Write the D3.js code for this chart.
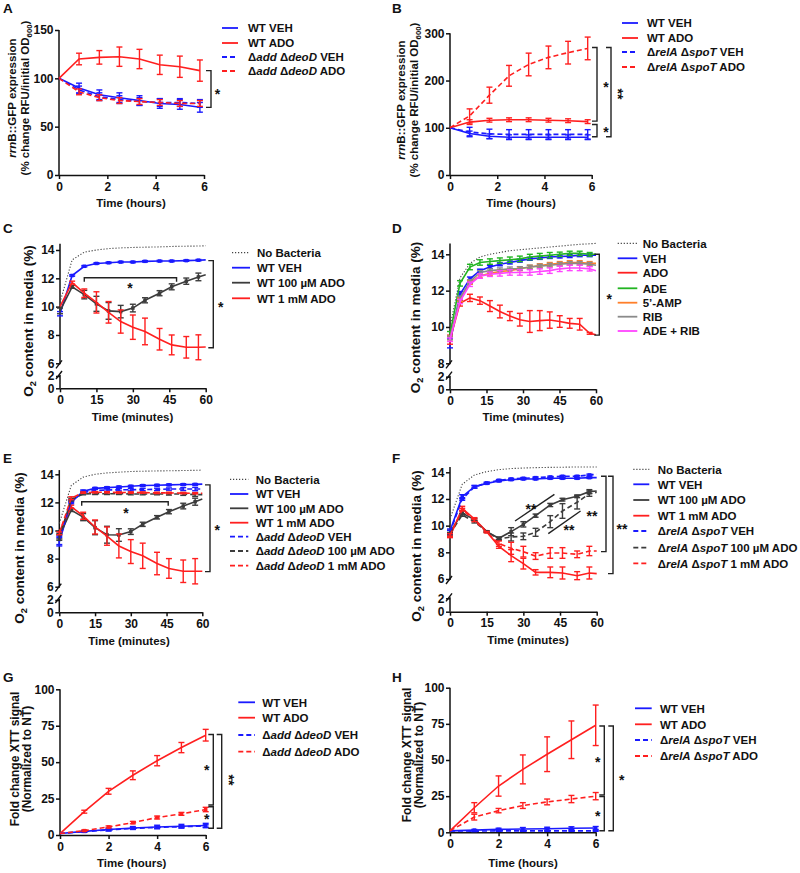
<!DOCTYPE html>
<html><head><meta charset="utf-8">
<script src="https://cdn.jsdelivr.net/npm/d3@7"></script>
<style>
body{margin:0;background:#fff;}
svg text{font-family:"Liberation Sans",Arial,Helvetica,sans-serif;font-weight:bold;fill:#111;}
</style></head><body>
<svg id="c" width="800" height="873"></svg>
<script>
// ---------------- DATA ----------------
// Panels A & B (hours)
const tAB = [0,0.83,1.67,2.5,3.33,4.17,5,5.83];
const A_wtVeh = [100,90,83,80,77,74,73,70];
const A_wtVehErr = [0,5,5,5,5,5,5,5];
const A_wtAdo = [100,120,121.7,122.4,120,114,112,108];
const A_wtAdoErr = [0,6,7,10,10,10,11,11];
const A_mutVeh = [100,88,81,78,76,75,75,74];
const A_mutVehErr = [0,4,4,4,4,4,4,4];
const A_mutAdo = [100,86,80,77,76,75,74,74];
const A_mutAdoErr = [0,3,3,3,3,3,3,3];

const B_wtVeh = [100,88,82,80,80,80,80,80];
const B_wtVehErr = [0,5,5,5,5,5,5,5];
const B_wtAdo = [100,112,116,117,117,116,115,113];
const B_wtAdoErr = [0,5,4,4,4,4,4,4];
const B_mutVeh = [100,91,87,86,86,86,86,86];
const B_mutVehErr = [0,10,10,10,10,10,10,10];
const B_mutAdo = [100,125,169,210,234,249,259,268];
const B_mutAdoErr = [0,15,17,22,24,24,24,24];

// Panels C, E, F (minutes)
const tCEF = [0,5,10,15,20,25,30,35,41,46,52,57,60];
const C_noBact = [10.3,13.3,13.85,14.0,14.1,14.15,14.18,14.2,14.22,14.25,14.27,14.28,14.3];
const C_wtVeh = [9.5,12.2,12.85,13.05,13.1,13.15,13.15,13.2,13.22,13.22,13.25,13.28,13.3];
const C_wtVehErr = [0.15,0.05,0.05,0.05,0.05,0.05,0.05,0.05,0.05,0.05,0.05,0.05,0];
const C_wt100 = [9.7,11.4,10.85,10.2,9.7,9.65,9.9,10.45,10.95,11.4,11.8,12.1,12.25];
const C_wt100Err = [0.2,0.1,0.3,0.53,0.59,0.44,0.27,0.18,0.18,0.21,0.22,0.27,0];
const C_wt1mM = [10.0,11.7,10.95,10.3,9.6,8.95,8.55,8.25,7.7,7.3,7.13,7.13,7.15];
const C_wt1mMErr = [0,0.1,0.3,0.75,0.76,0.82,0.86,0.94,0.76,0.7,0.76,0.88,0];

const E_noBact = [10.5,13.2,13.8,14.0,14.1,14.15,14.2,14.22,14.24,14.25,14.27,14.28,14.3];
const E_wtVeh = [9.2,12.0,12.8,13.0,13.05,13.1,13.15,13.2,13.22,13.25,13.27,13.28,13.3];
const E_wtVehErr = [0.3,0.1,0.08,0.06,0.06,0.06,0.06,0.06,0.06,0.06,0.06,0.06,0];
const E_wt100 = [9.6,11.45,10.95,10.2,9.7,9.68,9.92,10.44,10.94,11.34,11.74,12.05,12.24];
const E_wt100Err = [0.2,0.1,0.25,0.5,0.6,0.45,0.2,0.15,0.12,0.15,0.2,0.25,0];
const E_wt1mM = [9.9,11.7,11.05,10.25,9.6,8.9,8.5,8.2,7.65,7.3,7.1,7.1,7.1];
const E_wt1mMErr = [0,0.1,0.25,0.5,0.65,0.85,0.85,0.9,0.8,0.7,0.8,0.9,0];
const E_mutVeh = [9.3,12.1,12.7,12.85,12.88,12.9,12.9,12.92,12.93,12.95,12.95,12.95,12.95];
const E_mutVehErr = [0.3,0.1,0.08,0.08,0.08,0.08,0.08,0.08,0.08,0.08,0.1,0.12,0];
const E_mut100 = [9.5,12.2,12.6,12.62,12.62,12.62,12.6,12.6,12.6,12.6,12.6,12.55,12.55];
const E_mut100Err = [0.2,0.1,0.06,0.06,0.06,0.06,0.06,0.06,0.06,0.08,0.1,0.12,0];
const E_mut1mM = [9.8,12.3,12.7,12.72,12.72,12.7,12.7,12.7,12.68,12.68,12.66,12.65,12.65];
const E_mut1mMErr = [0.1,0.1,0.05,0.05,0.05,0.05,0.05,0.05,0.05,0.05,0.05,0.05,0];

const F_noBact = [10.5,13.1,13.8,14.05,14.2,14.28,14.32,14.35,14.37,14.38,14.4,14.4,14.4];
const F_wtVeh = [9.6,12.17,12.92,13.17,13.35,13.45,13.5,13.5,13.55,13.55,13.55,13.6,13.6];
const F_wtVehErr = [0.15,0.15,0.1,0.06,0.06,0.06,0.06,0.06,0.06,0.06,0.06,0.06,0];
const F_wt100 = [9.5,10.95,10.45,9.55,9.05,9.55,10.1,10.75,11.55,11.95,12.2,12.55,12.6];
const F_wt100Err = [0.15,0.15,0.1,0.05,0.1,0.3,0.2,0.12,0.12,0.1,0.1,0.15,0];
const F_wt1mM = [9.2,11.3,10.5,9.55,8.45,7.75,7.15,6.5,6.5,6.45,6.25,6.45,6.4];
const F_wt1mMErr = [0.1,0.15,0.1,0.05,0.15,0.45,0.4,0.2,0.4,0.45,0.3,0.45,0];
const F_mutVeh = [9.5,12.0,12.9,13.2,13.4,13.5,13.55,13.6,13.65,13.7,13.7,13.8,13.85];
const F_mutVehErr = [0.15,0.1,0.08,0.06,0.06,0.06,0.06,0.06,0.06,0.06,0.06,0.06,0];
const F_mut100 = [9.4,10.8,10.3,9.55,9.0,9.15,9.2,9.5,10.3,11.1,11.75,12.4,12.5];
const F_mut100Err = [0.1,0.1,0.1,0.05,0.1,0.3,0.25,0.3,0.45,0.55,0.5,0.2,0];
const F_mut1mM = [9.3,11.2,10.4,9.5,8.65,8.3,8.05,7.72,7.95,7.95,7.85,8.1,8.1];
const F_mut1mMErr = [0.1,0.1,0.1,0.05,0.2,0.45,0.4,0.25,0.4,0.4,0.25,0.35,0];

// Panel D (minutes)
const tD = [0,4.1,8.2,12.3,16.4,20.5,24.6,28.7,32.8,36.9,41,45.1,49.2,53.3,57.4,60];
const D_noBact = [10.0,12.7,13.5,13.85,14.0,14.1,14.2,14.25,14.3,14.35,14.4,14.45,14.5,14.55,14.58,14.6];
const D_veh = [9.1,11.8,12.65,13.1,13.3,13.45,13.55,13.65,13.75,13.8,13.85,13.88,13.9,13.95,13.95,13.95];
const D_vehErr = [0.25,0.15,0.1,0.08,0.08,0.08,0.08,0.08,0.08,0.08,0.08,0.08,0.08,0.08,0.08,0];
const D_ado = [9.3,11.3,11.6,11.45,11.15,10.85,10.6,10.4,10.3,10.35,10.38,10.3,10.2,10.15,9.65,9.57];
const D_adoErr = [0.25,0.15,0.2,0.2,0.3,0.35,0.25,0.35,0.6,0.55,0.45,0.32,0.27,0.32,0.05,0];
const D_ade = [9.6,12.4,13.3,13.55,13.6,13.65,13.7,13.75,13.85,13.9,13.95,14.0,14.05,14.05,14.0,14.0];
const D_adeErr = [0.15,0.15,0.15,0.15,0.15,0.15,0.15,0.15,0.15,0.15,0.15,0.12,0.12,0.12,0.1,0];
const D_amp = [9.4,11.5,12.45,12.8,12.95,13.05,13.1,13.2,13.3,13.38,13.45,13.5,13.55,13.55,13.5,13.5];
const D_ampErr = [0.1,0.1,0.1,0.1,0.1,0.1,0.1,0.1,0.1,0.1,0.1,0.1,0.1,0.1,0.1,0];
const D_rib = [9.4,11.6,12.5,13.0,13.1,13.15,13.2,13.22,13.3,13.35,13.4,13.45,13.5,13.5,13.45,13.4];
const D_ribErr = [0.1,0.1,0.1,0.1,0.1,0.1,0.1,0.1,0.1,0.1,0.1,0.1,0.1,0.1,0.1,0];
const D_adeRib = [9.3,11.4,12.35,12.8,12.9,12.95,13.0,13.0,13.0,13.05,13.1,13.2,13.25,13.25,13.2,13.1];
const D_adeRibErr = [0.1,0.12,0.12,0.12,0.12,0.15,0.15,0.15,0.15,0.15,0.15,0.15,0.15,0.15,0.12,0];

// Panels G & H (hours)
const tGH = [0,1,2,3,4,5,6];
const G_wtVeh = [1,2.5,3.8,4.8,5.5,6,6.5];
const G_wtVehErr = [0,0.5,1,1,1.2,1.3,1.5];
const G_wtAdo = [1,16,30,41,51,60,68.5];
const G_wtAdoErr = [0,1,2,3,3.5,3.5,4];
const G_mutVeh = [1,2.3,3.5,4.5,5.2,5.7,6.2];
const G_mutVehErr = [0,0.5,0.6,0.6,0.7,0.7,0.8];
const G_mutAdo = [1,3,5.5,8.5,12,14.5,17.5];
const G_mutAdoErr = [0,0.5,0.7,0.8,1,1,1.5];

const H_wtVeh = [1,1.5,2,2.3,2.5,2.8,3];
const H_wtVehErr = [0,0.5,0.8,1,1,1,1];
const H_wtAdo = [1,17,32,43.5,54,64,74];
const H_wtAdoErr = [0,3.5,7,10,12,13,14];
const H_mutVeh = [1,0.8,1,1,1,1,1];
const H_mutVehErr = [0,0.3,0.3,0.3,0.3,0.3,0.3];
const H_mutAdo = [1,10.5,15,18.5,21,23,25];
const H_mutAdoErr = [0,2,1.5,2,2,2.5,2.5];

// tick labels
const ticksHours = [0,2,4,6];
const ticksMin = [0,15,30,45,60];
const ticksA = [0,50,100,150];
const ticksB = [0,100,200,300];
const ticksO2_6 = [6,8,10,12,14];
const ticksO2_8 = [8,10,12,14];
const ticksLow = [0,2];
const ticksXTT = [0,25,50,75,100];

// legend / label texts
const L_wtVeh = "WT VEH", L_wtAdo = "WT ADO";
const L_addVeh = "Δ<i>add</i> Δ<i>deoD</i> VEH", L_addAdo = "Δ<i>add</i> Δ<i>deoD</i> ADO";
const L_relVeh = "Δ<i>relA</i> Δ<i>spoT</i> VEH", L_relAdo = "Δ<i>relA</i> Δ<i>spoT</i> ADO";
const L_noB = "No Bacteria", L_wt100 = "WT 100 µM ADO", L_wt1 = "WT 1 mM ADO";
const L_add100 = "Δ<i>add</i> Δ<i>deoD</i> 100 µM ADO", L_add1 = "Δ<i>add</i> Δ<i>deoD</i> 1 mM ADO";
const L_rel100 = "Δ<i>relA</i> Δ<i>spoT</i> 100 µM ADO", L_rel1 = "Δ<i>relA</i> Δ<i>spoT</i> 1 mM ADO";

// ---------------- STYLE ----------------
const BLUE = "#1a1aff", RED = "#ff1f1f", DGRAY = "#3c3c3c", LGRAY = "#8a8a8a",
      GREEN = "#22b422", ORANGE = "#ff7f2a", MAGENTA = "#ff45ff", DOT = "#444";
const SOLID = null, DASH = "5,3", DOTS = "1.2,1.8";

const svg = d3.select("#c");
const fmt = d3.format("d");

function addRich(sel, str) {
  const parts = str.split(/(<i>.*?<\/i>|<sub>.*?<\/sub>)/).filter(s => s.length);
  let shifted = false;
  parts.forEach(p => {
    let t;
    if (p.startsWith("<sub>")) {
      t = sel.append("tspan").attr("font-size", "0.68em").attr("dy", 3).text(p.slice(5, -6));
      shifted = true; return;
    }
    if (p.startsWith("<i>")) t = sel.append("tspan").attr("font-style", "italic").text(p.slice(3, -4));
    else t = sel.append("tspan").text(p);
    if (shifted) { t.attr("dy", -3); shifted = false; }
  });
}

function styleAxis(a, fs) {
  a.attr("font-family", null).attr("font-size", fs);
  a.selectAll(".domain").attr("stroke", "#111").attr("stroke-width", 1.5);
  a.selectAll(".tick line").attr("stroke", "#111").attr("stroke-width", 1.5);
  a.selectAll(".tick text").attr("fill", "#111");
}

function star(g, s) {
  const t = g.append("text").attr("font-size", 14).attr("text-anchor", "middle").text(s.s);
  if (s.rot) t.attr("transform", `translate(${s.x - 7},${s.y}) rotate(90)`);
  else t.attr("x", s.x).attr("y", s.y + 7);
}

function drawPanel(p) {
  const g = svg.append("g");
  const x = d3.scaleLinear().domain(p.xDomain).range([p.left, p.right]);
  const y = d3.scaleLinear().domain(p.yDomain).range([p.yBottom, p.yTop]);
  let xAxisY = y(p.yDomain[0]);
  let yLow = null;
  if (p.low) { yLow = d3.scaleLinear().domain([0, 2]).range(p.low); xAxisY = yLow(0); }

  const xa = g.append("g").attr("transform", `translate(0,${xAxisY})`)
    .call(d3.axisBottom(x).tickValues(p.xTicks).tickSize(4).tickSizeOuter(0).tickPadding(3).tickFormat(fmt));
  styleAxis(xa, 12);

  const ya = g.append("g").attr("transform", `translate(${p.left},0)`)
    .call(d3.axisLeft(y).tickValues(p.yTicks).tickSize(4).tickSizeOuter(0).tickPadding(1.5).tickFormat(fmt));
  styleAxis(ya, 12);
  ya.select(".domain").remove();
  g.append("line").attr("x1", p.left).attr("x2", p.left)
    .attr("y1", y(p.axisTop)).attr("y2", p.low ? y(p.yDomain[0]) + 1 : xAxisY)
    .attr("stroke", "#111").attr("stroke-width", 1.5);

  if (p.low) {
    const yl = g.append("g").attr("transform", `translate(${p.left},0)`)
      .call(d3.axisLeft(yLow).tickValues(ticksLow).tickSize(4).tickSizeOuter(0).tickPadding(1.5).tickFormat(fmt));
    styleAxis(yl, 12);
    yl.select(".domain").remove();
    g.append("line").attr("x1", p.left).attr("x2", p.left)
      .attr("y1", yLow(2) - 1).attr("y2", xAxisY)
      .attr("stroke", "#111").attr("stroke-width", 1.5);
    [y(p.yDomain[0]) + 1, yLow(2) - 1].forEach(yy => {
      g.append("line").attr("x1", p.left - 4).attr("y1", yy + 4).attr("x2", p.left + 2).attr("y2", yy - 4)
        .attr("stroke", "#111").attr("stroke-width", 1.4);
    });
  }

  // series
  p.series.forEach(s => {
    const pts = s.t.map((t, i) => ({ t, v: s.v[i], e: s.e ? s.e[i] : 0 }));
    g.append("path").datum(pts)
      .attr("d", d3.line().x(d => x(d.t)).y(d => y(d.v)))
      .attr("fill", "none").attr("stroke", s.color)
      .attr("stroke-width", s.w || 1.6).attr("stroke-dasharray", s.dash);
    if (s.e) {
      const eb = g.append("g").attr("stroke", s.color).attr("stroke-width", 1.4);
      pts.filter(d => d.e > 0).forEach(d => {
        const cx = x(d.t), y1 = y(d.v - d.e), y2 = y(d.v + d.e);
        eb.append("line").attr("x1", cx).attr("x2", cx).attr("y1", y1).attr("y2", y2);
        eb.append("line").attr("x1", cx - 3).attr("x2", cx + 3).attr("y1", y1).attr("y2", y1);
        eb.append("line").attr("x1", cx - 3).attr("x2", cx + 3).attr("y1", y2).attr("y2", y2);
      });
    }
    if (s.marker) {
      g.append("g").selectAll("rect").data(pts.slice(1, s.t[s.t.length-1] === 60 ? -1 : undefined)).join("rect")
        .attr("x", d => x(d.t) - 1.75).attr("y", d => y(d.v) - 1.75).attr("width", 3.5).attr("height", 3.5)
        .attr("fill", s.color);
    }
  });

  // legend
  p.series.forEach((s, i) => {
    const ry = p.legend.rows[i];
    g.append("line").attr("x1", p.legend.x1).attr("x2", p.legend.x2).attr("y1", ry).attr("y2", ry)
      .attr("stroke", s.color).attr("stroke-width", s.dash === DOTS ? 1.2 : 1.8).attr("stroke-dasharray", s.dash);
    const t = g.append("text").attr("x", p.legend.tx).attr("y", ry + 4.2).attr("font-size", 11.5);
    addRich(t, s.label);
  });

  // brackets
  (p.vbr || []).forEach(b => {
    g.append("path").attr("d", `M${b.x - 5},${y(b.v1)}H${b.x}V${y(b.v2)}H${b.x - 5}`)
      .attr("fill", "none").attr("stroke", "#222").attr("stroke-width", 1.4);
  });
  (p.hbr || []).forEach(b => {
    g.append("path").attr("d", `M${x(b.t1)},${b.y + 4}V${b.y}H${x(b.t2)}V${b.y + 4}`)
      .attr("fill", "none").attr("stroke", "#222").attr("stroke-width", 1.4);
  });
  (p.diag || []).forEach(d => {
    g.append("line").attr("x1", x(d[0])).attr("y1", y(d[1])).attr("x2", x(d[2])).attr("y2", y(d[3]))
      .attr("stroke", "#222").attr("stroke-width", 1.4);
  });
  (p.stars || []).forEach(s => star(g, s));

  // labels
  p.ylab.lines.forEach(l => {
    const t = g.append("text").attr("text-anchor", "middle").attr("font-size", p.ylab.fs)
      .attr("transform", `translate(${l.x},${p.ylab.yc}) rotate(-90)`);
    addRich(t, l.s);
  });
  g.append("text").attr("x", p.xlab.x).attr("y", p.xlab.y).attr("text-anchor", "middle")
    .attr("font-size", 11.5).text(p.xlab.s);
  g.append("text").attr("x", p.letter.x).attr("y", p.letter.y).attr("font-size", 13.5).text(p.letter.s);
}

const O2 = "O<sub>2</sub> content in media (%)";

// ---------------- PANELS ----------------
drawPanel({
  left: 59, right: 204, yTop: 30, yBottom: 175, xDomain: [0, 6], yDomain: [0, 150], axisTop: 150,
  xTicks: ticksHours, yTicks: ticksA,
  series: [
    { label: L_wtVeh, t: tAB, v: A_wtVeh, e: A_wtVehErr, color: BLUE, dash: SOLID },
    { label: L_wtAdo, t: tAB, v: A_wtAdo, e: A_wtAdoErr, color: RED, dash: SOLID },
    { label: L_addVeh, t: tAB, v: A_mutVeh, e: A_mutVehErr, color: BLUE, dash: DASH },
    { label: L_addAdo, t: tAB, v: A_mutAdo, e: A_mutAdoErr, color: RED, dash: DASH }],
  legend: { x1: 222, x2: 238, tx: 248, rows: [28, 43, 57, 71] },
  vbr: [{ x: 211, v1: 108, v2: 70 }], stars: [{ x: 217.5, y: 92, s: "*" }],
  ylab: { fs: 11.5, yc: 98, lines: [{ x: 16, s: "<i>rrn</i>B::GFP expression" }, { x: 28.5, s: "(% change RFU/initial OD<sub>600</sub>)" }] },
  xlab: { x: 131, y: 206.5, s: "Time (hours)" }, letter: { x: 3, y: 12.7, s: "A" }
});

drawPanel({
  left: 450, right: 591.7, yTop: 33.3, yBottom: 175, xDomain: [0, 6], yDomain: [0, 300], axisTop: 300,
  xTicks: ticksHours, yTicks: ticksB,
  series: [
    { label: L_wtVeh, t: tAB, v: B_wtVeh, e: B_wtVehErr, color: BLUE, dash: SOLID },
    { label: L_wtAdo, t: tAB, v: B_wtAdo, e: B_wtAdoErr, color: RED, dash: SOLID },
    { label: L_relVeh, t: tAB, v: B_mutVeh, e: B_mutVehErr, color: BLUE, dash: DASH },
    { label: L_relAdo, t: tAB, v: B_mutAdo, e: B_mutAdoErr, color: RED, dash: DASH }],
  legend: { x1: 622, x2: 638, tx: 647, rows: [23, 38, 52, 67] },
  vbr: [{ x: 597, v1: 270, v2: 114 }, { x: 597, v1: 107, v2: 81 }, { x: 611, v1: 270, v2: 81 }],
  stars: [{ x: 606, y: 85, s: "*" }, { x: 606, y: 130, s: "*" }, { x: 620, y: 94, s: "**", rot: true }],
  ylab: { fs: 11.5, yc: 100, lines: [{ x: 405, s: "<i>rrn</i>B::GFP expression" }, { x: 418, s: "(% change RFU/initial OD<sub>600</sub>)" }] },
  xlab: { x: 521, y: 206.5, s: "Time (hours)" }, letter: { x: 392, y: 12.7, s: "B" }
});

drawPanel({
  left: 60, right: 205.7, yTop: 250, yBottom: 363.3, xDomain: [0, 60], yDomain: [6, 14], axisTop: 14.45,
  low: [388.3, 376], xTicks: ticksMin, yTicks: ticksO2_6,
  series: [
    { label: L_noB, t: tCEF, v: C_noBact, color: DOT, dash: DOTS, w: 1.1 },
    { label: L_wtVeh, t: tCEF, v: C_wtVeh, e: C_wtVehErr, color: BLUE, dash: SOLID, marker: true },
    { label: L_wt100, t: tCEF, v: C_wt100, e: C_wt100Err, color: DGRAY, dash: SOLID, marker: true },
    { label: L_wt1, t: tCEF, v: C_wt1mM, e: C_wt1mMErr, color: RED, dash: SOLID }],
  legend: { x1: 232, x2: 250, tx: 257, rows: [252.7, 267.7, 282.7, 298.3] },
  vbr: [{ x: 213.3, v1: 13.25, v2: 7.1 }], hbr: [{ y: 277.7, t1: 10, t2: 48 }],
  stars: [{ x: 130, y: 286, s: "*" }, { x: 220.7, y: 305, s: "*" }],
  ylab: { fs: 13.5, yc: 321, lines: [{ x: 32.5, s: O2 }] },
  xlab: { x: 132.5, y: 421, s: "Time (minutes)" }, letter: { x: 3, y: 233, s: "C" }
});

drawPanel({
  left: 450, right: 596, yTop: 254.3, yBottom: 363.3, xDomain: [0, 60], yDomain: [8, 14], axisTop: 14.6,
  low: [389.3, 376.7], xTicks: ticksMin, yTicks: ticksO2_8,
  series: [
    { label: L_noB, t: tD, v: D_noBact, color: DOT, dash: DOTS, w: 1.1 },
    { label: "VEH", t: tD, v: D_veh, e: D_vehErr, color: BLUE, dash: SOLID, marker: true },
    { label: "ADO", t: tD, v: D_ado, e: D_adoErr, color: RED, dash: SOLID },
    { label: "ADE", t: tD, v: D_ade, e: D_adeErr, color: GREEN, dash: SOLID },
    { label: "5’-AMP", t: tD, v: D_amp, e: D_ampErr, color: ORANGE, dash: SOLID, marker: true },
    { label: "RIB", t: tD, v: D_rib, e: D_ribErr, color: LGRAY, dash: SOLID },
    { label: "ADE + RIB", t: tD, v: D_adeRib, e: D_adeRibErr, color: MAGENTA, dash: SOLID }],
  legend: { x1: 617.7, x2: 637.3, tx: 642.7, rows: [243.3, 258.3, 272.7, 288.3, 302.7, 316.7, 331] },
  vbr: [{ x: 599.3, v1: 14.0, v2: 9.55 }], stars: [{ x: 609.3, y: 296.7, s: "*" }],
  ylab: { fs: 13.5, yc: 317.5, lines: [{ x: 420, s: O2 }] },
  xlab: { x: 523.3, y: 421, s: "Time (minutes)" }, letter: { x: 392, y: 233, s: "D" }
});

drawPanel({
  left: 59.3, right: 202.3, yTop: 474.3, yBottom: 586.7, xDomain: [0, 60], yDomain: [6, 14], axisTop: 14.3,
  low: [612.3, 600], xTicks: ticksMin, yTicks: ticksO2_6,
  series: [
    { label: L_noB, t: tCEF, v: E_noBact, color: DOT, dash: DOTS, w: 1.1 },
    { label: L_wtVeh, t: tCEF, v: E_wtVeh, e: E_wtVehErr, color: BLUE, dash: SOLID, marker: true },
    { label: L_wt100, t: tCEF, v: E_wt100, e: E_wt100Err, color: DGRAY, dash: SOLID, marker: true },
    { label: L_wt1, t: tCEF, v: E_wt1mM, e: E_wt1mMErr, color: RED, dash: SOLID },
    { label: L_addVeh, t: tCEF, v: E_mutVeh, e: E_mutVehErr, color: BLUE, dash: DASH },
    { label: L_add100, t: tCEF, v: E_mut100, e: E_mut100Err, color: DGRAY, dash: DASH },
    { label: L_add1, t: tCEF, v: E_mut1mM, e: E_mut1mMErr, color: RED, dash: DASH }],
  legend: { x1: 230, x2: 248.3, tx: 255.7, rows: [479.3, 494, 508.3, 522.7, 536.7, 551, 565.7] },
  vbr: [{ x: 210, v1: 13.25, v2: 7.07 }], hbr: [{ y: 501.7, t1: 9.4, t2: 45.7 }],
  stars: [{ x: 126, y: 510.7, s: "*" }, { x: 217.3, y: 528.3, s: "*" }],
  ylab: { fs: 13.5, yc: 548, lines: [{ x: 24, s: O2 }] },
  xlab: { x: 129, y: 645, s: "Time (minutes)" }, letter: { x: 3, y: 463, s: "E" }
});

drawPanel({
  left: 450, right: 596.7, yTop: 472.3, yBottom: 579, xDomain: [0, 60], yDomain: [6, 14], axisTop: 14.4,
  low: [611.7, 598.3], xTicks: ticksMin, yTicks: ticksO2_6,
  series: [
    { label: L_noB, t: tCEF, v: F_noBact, color: DOT, dash: DOTS, w: 1.1 },
    { label: L_wtVeh, t: tCEF, v: F_wtVeh, e: F_wtVehErr, color: BLUE, dash: SOLID, marker: true },
    { label: L_wt100, t: tCEF, v: F_wt100, e: F_wt100Err, color: DGRAY, dash: SOLID, marker: true },
    { label: L_wt1, t: tCEF, v: F_wt1mM, e: F_wt1mMErr, color: RED, dash: SOLID },
    { label: L_relVeh, t: tCEF, v: F_mutVeh, e: F_mutVehErr, color: BLUE, dash: DASH, marker: true },
    { label: L_rel100, t: tCEF, v: F_mut100, e: F_mut100Err, color: DGRAY, dash: DASH },
    { label: L_rel1, t: tCEF, v: F_mut1mM, e: F_mut1mMErr, color: RED, dash: DASH }],
  legend: { x1: 633.3, x2: 649.3, tx: 657.7, rows: [469.3, 484.3, 500, 515.7, 531, 547.7, 563.3] },
  vbr: [{ x: 606, v1: 13.7, v2: 8.05 }, { x: 613, v1: 13.7, v2: 6.4 }],
  diag: [[26.6, 10.35, 42.7, 12.35], [40.2, 9.4, 53.4, 11.1]],
  stars: [{ x: 592, y: 514, s: "**" }, { x: 622, y: 527, s: "**" }, { x: 531, y: 506.7, s: "**" }, { x: 569, y: 528.3, s: "**" }],
  ylab: { fs: 13.5, yc: 546, lines: [{ x: 421, s: O2 }] },
  xlab: { x: 528, y: 644, s: "Time (minutes)" }, letter: { x: 392, y: 463, s: "F" }
});

drawPanel({
  left: 60, right: 205.7, yTop: 689.3, yBottom: 835, xDomain: [0, 6], yDomain: [0, 100], axisTop: 100,
  xTicks: ticksHours, yTicks: ticksXTT,
  series: [
    { label: L_wtVeh, t: tGH, v: G_wtVeh, e: G_wtVehErr, color: BLUE, dash: SOLID, marker: true },
    { label: L_wtAdo, t: tGH, v: G_wtAdo, e: G_wtAdoErr, color: RED, dash: SOLID },
    { label: L_addVeh, t: tGH, v: G_mutVeh, e: G_mutVehErr, color: BLUE, dash: DASH },
    { label: L_addAdo, t: tGH, v: G_mutAdo, e: G_mutAdoErr, color: RED, dash: DASH, marker: true }],
  legend: { x1: 238.3, x2: 255, tx: 262.3, rows: [702.3, 717.7, 735, 751.7] },
  vbr: [{ x: 213.3, v1: 69, v2: 20.6 }, { x: 213.3, v1: 19.4, v2: 4.6 }, { x: 221.7, v1: 69, v2: 4.6 }],
  stars: [{ x: 206.7, y: 768.3, s: "*" }, { x: 206.7, y: 816.7, s: "*" }, { x: 231, y: 780, s: "**", rot: true }],
  ylab: { fs: 12, yc: 759, lines: [{ x: 18.5, s: "Fold change XTT signal" }, { x: 30.5, s: "(Normalized to NT)" }] },
  xlab: { x: 131.7, y: 867, s: "Time (hours)" }, letter: { x: 3, y: 682, s: "G" }
});

drawPanel({
  left: 450, right: 595.7, yTop: 687.7, yBottom: 832.3, xDomain: [0, 6], yDomain: [0, 100], axisTop: 100,
  xTicks: ticksHours, yTicks: ticksXTT,
  series: [
    { label: L_wtVeh, t: tGH, v: H_wtVeh, e: H_wtVehErr, color: BLUE, dash: SOLID, marker: true },
    { label: L_wtAdo, t: tGH, v: H_wtAdo, e: H_wtAdoErr, color: RED, dash: SOLID },
    { label: L_relVeh, t: tGH, v: H_mutVeh, e: H_mutVehErr, color: BLUE, dash: DASH },
    { label: L_relAdo, t: tGH, v: H_mutAdo, e: H_mutAdoErr, color: RED, dash: DASH }],
  legend: { x1: 635, x2: 651.7, tx: 660, rows: [708.3, 724.3, 740, 756] },
  vbr: [{ x: 604.3, v1: 73.5, v2: 25.8 }, { x: 604.3, v1: 24.7, v2: 1.1 }, { x: 613.3, v1: 73.5, v2: 1.1 }],
  stars: [{ x: 597.7, y: 760, s: "*" }, { x: 597.7, y: 814, s: "*" }, { x: 621.7, y: 777.7, s: "*" }],
  ylab: { fs: 12, yc: 755, lines: [{ x: 410.5, s: "Fold change XTT signal" }, { x: 422.5, s: "(Normalized to NT)" }] },
  xlab: { x: 523, y: 867, s: "Time (hours)" }, letter: { x: 392, y: 682, s: "H" }
});
</script>
</body></html>
